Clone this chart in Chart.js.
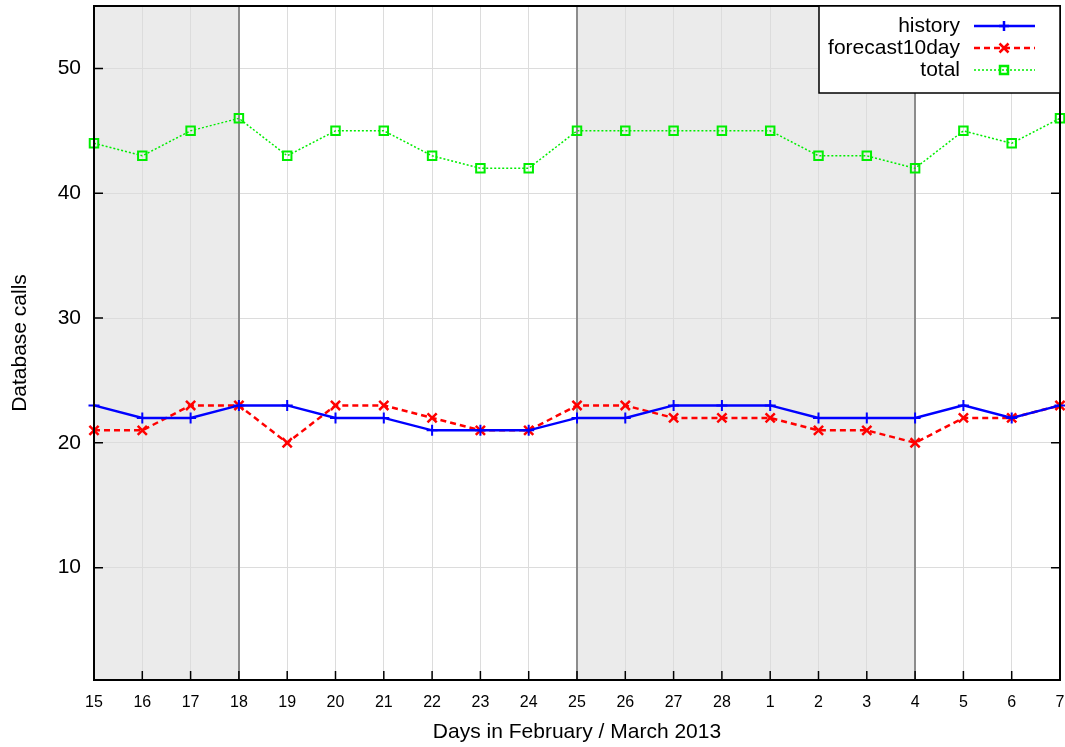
<!DOCTYPE html>
<html>
<head>
<meta charset="utf-8">
<script src="https://cdn.jsdelivr.net/npm/chart.js@4/dist/chart.umd.min.js"></script>
<style>
  html, body { margin: 0; padding: 0; background: #fff; }
  #wrap { width: 1065px; height: 747px; }
</style>
</head>
<body>
<div id="wrap"><canvas id="dbChart" width="1065" height="747"></canvas></div>
<script>
// days on the x axis (Feb 15 .. Mar 7, 2013)
const days = ['15','16','17','18','19','20','21','22','23','24','25','26','27','28','1','2','3','4','5','6','7'];
const history = [23,22,22,23,23,22,22,21,21,21,22,22,23,23,23,22,22,22,23,22,23];
const forecast10day = [21,21,23,23,20,23,23,22,21,21,23,23,22,22,22,21,21,20,22,22,23];
const total = [44,43,45,46,43,45,45,43,42,42,45,45,45,45,45,43,43,42,45,44,46];
const yTicks = [10,20,30,40,50];
// shaded week blocks, as index ranges into days
const shadedSpans = [[0,3],[10,17]];
const weekLines = [3,10,17];

const FONT = '"Liberation Sans", Arial, Helvetica, sans-serif';

const legendItems = [
    { text: 'history', color: '#0000ff', dash: [], width: 2.5, style: 'cross' },
    { text: 'forecast10day', color: '#ff0000', dash: [6,4], width: 2.5, style: 'crossRot' },
    { text: 'total', color: '#00ee00', dash: [2,2], width: 1.5, style: 'rect' }
];

const gnuplotLook = {
    id: 'gnuplotLook',
    beforeDraw(chart) {
        const { ctx, chartArea: a, scales: { x } } = chart;
        ctx.save();
        ctx.fillStyle = '#ebebeb';
        shadedSpans.forEach(([s, e]) => {
            const x0 = x.getPixelForValue(s), x1 = x.getPixelForValue(e);
            ctx.fillRect(x0, a.top, x1 - x0, a.bottom - a.top);
        });
        ctx.restore();
    },
    beforeDatasetsDraw(chart) {
        const { ctx, chartArea: a, scales: { x, y } } = chart;
        ctx.save();
        ctx.strokeStyle = '#8c8c8c';
        ctx.lineWidth = 2;
        weekLines.forEach(i => {
            const px = Math.round(x.getPixelForValue(i));
            ctx.beginPath();
            ctx.moveTo(px, a.top);
            ctx.lineTo(px, a.bottom);
            ctx.stroke();
        });
        // inward tick marks
        ctx.strokeStyle = '#000';
        ctx.lineWidth = 1.5;
        days.forEach((d, i) => {
            const px = x.getPixelForValue(i);
            ctx.beginPath();
            ctx.moveTo(px, a.bottom);
            ctx.lineTo(px, a.bottom - 9);
            ctx.stroke();
        });
        yTicks.forEach(v => {
            const py = y.getPixelForValue(v);
            ctx.beginPath();
            ctx.moveTo(a.left, py);
            ctx.lineTo(a.left + 9, py);
            ctx.moveTo(a.right, py);
            ctx.lineTo(a.right - 9, py);
            ctx.stroke();
        });
        ctx.restore();
    },
    afterDraw(chart) {
        const { ctx, chartArea: a } = chart;
        ctx.save();
        // frame
        ctx.strokeStyle = '#000';
        ctx.lineWidth = 2;
        ctx.strokeRect(a.left, a.top, a.right - a.left, a.bottom - a.top);
        // key box
        const bx = 819, by = a.top, bw = a.right - 819, bh = 87;
        ctx.fillStyle = '#fff';
        ctx.fillRect(bx, by, bw, bh);
        ctx.lineWidth = 1.5;
        ctx.strokeRect(bx, by, bw, bh);
        ctx.font = '21px ' + FONT;
        ctx.textAlign = 'right';
        ctx.textBaseline = 'middle';
        legendItems.forEach((it, k) => {
            const ty = 26 + k * 22;
            ctx.fillStyle = '#000';
            ctx.fillText(it.text, 960, ty);
            ctx.strokeStyle = it.color;
            ctx.lineWidth = it.width;
            ctx.setLineDash(it.dash);
            ctx.beginPath();
            ctx.moveTo(974, ty);
            ctx.lineTo(1035, ty);
            ctx.stroke();
            ctx.setLineDash([]);
            ctx.lineWidth = 2.5;
            ctx.beginPath();
            const cx = 1004;
            if (it.style === 'cross') {
                ctx.moveTo(cx - 5, ty); ctx.lineTo(cx + 5, ty);
                ctx.moveTo(cx, ty - 5); ctx.lineTo(cx, ty + 5);
            } else if (it.style === 'crossRot') {
                ctx.moveTo(cx - 4.5, ty - 4.5); ctx.lineTo(cx + 4.5, ty + 4.5);
                ctx.moveTo(cx + 4.5, ty - 4.5); ctx.lineTo(cx - 4.5, ty + 4.5);
            } else {
                ctx.rect(cx - 4, ty - 4, 8, 8);
            }
            ctx.stroke();
        });
        ctx.restore();
    }
};

new Chart(document.getElementById('dbChart'), {
    type: 'line',
    data: {
        labels: days,
        datasets: [
            {
                label: 'history',
                data: history,
                borderColor: '#0000ff',
                backgroundColor: '#0000ff',
                borderWidth: 2.5,
                pointStyle: 'cross',
                pointRadius: 5.5,
                pointBorderWidth: 2,
                tension: 0
            },
            {
                label: 'forecast10day',
                data: forecast10day,
                borderColor: '#ff0000',
                backgroundColor: '#ff0000',
                borderWidth: 2.5,
                borderDash: [6, 4],
                pointStyle: 'crossRot',
                pointRadius: 6.5,
                pointBorderWidth: 2.5,
                tension: 0
            },
            {
                label: 'total',
                data: total,
                borderColor: '#00ee00',
                backgroundColor: 'rgba(0,0,0,0)',
                borderWidth: 1.5,
                borderDash: [2, 2],
                pointStyle: 'rect',
                pointRadius: 6,
                pointBorderWidth: 2,
                tension: 0
            }
        ]
    },
    options: {
        responsive: false,
        animation: false,
        layout: { autoPadding: false, padding: { top: 6, right: 5, left: 0, bottom: 0 } },
        plugins: {
            legend: { display: false },
            tooltip: { enabled: false }
        },
        scales: {
            x: {
                type: 'category',
                offset: false,
                afterFit(scale) {
                    scale.height = 67;
                    scale.paddingLeft = 0;
                    scale.paddingRight = 0;
                },
                grid: { color: '#dcdcdc', lineWidth: 1, drawTicks: false },
                border: { display: false },
                ticks: {
                    color: '#000',
                    font: { family: FONT, size: 16 },
                    padding: 13,
                    maxRotation: 0,
                    autoSkip: false
                },
                title: {
                    display: true,
                    text: 'Days in February / March 2013',
                    color: '#000',
                    font: { family: FONT, size: 21 },
                    padding: { top: 0, bottom: 2 }
                }
            },
            y: {
                min: 1,
                max: 55,
                afterBuildTicks(scale) { scale.ticks = yTicks.map(v => ({ value: v })); },
                afterFit(scale) {
                    scale.width = 94;
                    scale.paddingTop = 0;
                    scale.paddingBottom = 0;
                },
                grid: { color: '#dcdcdc', lineWidth: 1, drawTicks: false },
                border: { display: false },
                ticks: {
                    color: '#000',
                    font: { family: FONT, size: 21 },
                    padding: 13
                },
                title: {
                    display: true,
                    text: 'Database calls',
                    color: '#000',
                    font: { family: FONT, size: 21 },
                    padding: { top: 8, bottom: 0 }
                }
            }
        }
    },
    plugins: [gnuplotLook]
});
</script>
</body>
</html>
